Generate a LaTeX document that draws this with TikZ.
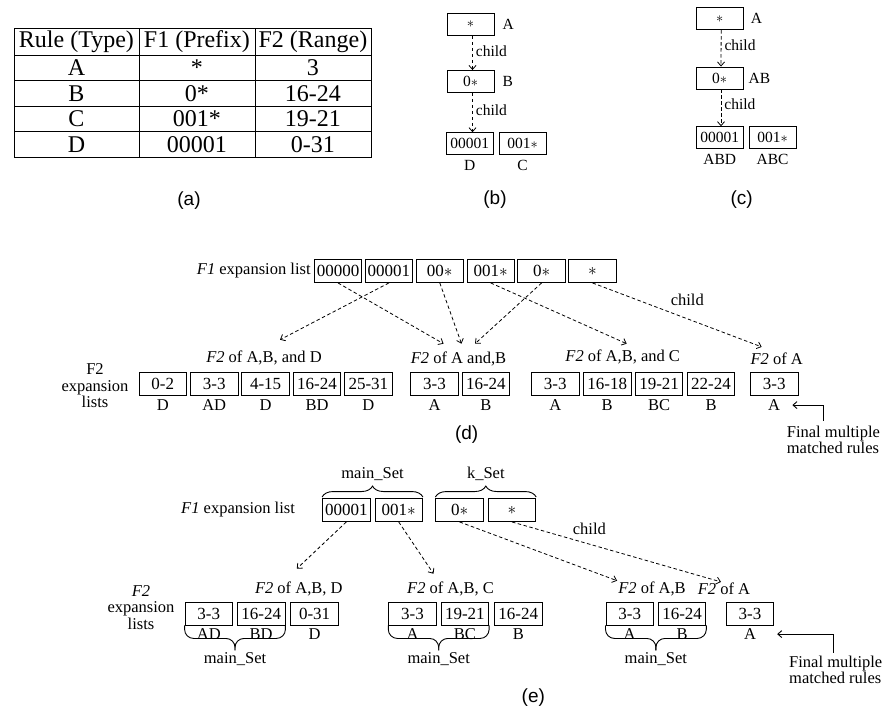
\documentclass[tikz,border=0pt]{standalone}
\usepackage{fontspec}
\setmainfont{Liberation Serif}
\setsansfont{Liberation Sans}
\usepackage{tikz}
\usetikzlibrary{matrix, positioning, calc, decorations.pathreplacing, arrows.meta}

\begin{document}
\begin{tikzpicture}[x=1pt, y=-1pt,
    box/.style={draw, line width=0.9pt, minimum width=47pt, minimum height=22pt, inner sep=1pt, font=\fontsize{15.5}{17}\selectfont},
    cell/.style={draw, line width=0.9pt, minimum width=47.5pt, minimum height=23pt, inner sep=1pt, font=\fontsize{17}{19}\selectfont},
    txt/.style={inner sep=1pt, font=\fontsize{16.5}{16.6}\selectfont},
    tag/.style={inner sep=1pt, font=\fontsize{15.5}{17}\selectfont},
    panel/.style={inner sep=1pt, font=\sffamily\fontsize{19}{21}\selectfont},
    link/.style={line width=0.8pt, dash pattern=on 3.5pt off 2.5pt, -{Straight Barb[length=4pt,width=7pt]}},
    back/.style={line width=0.9pt, -{Straight Barb[length=4pt,width=7pt]}},
    curly/.style={line width=0.9pt, rounded corners=9pt}]
\useasboundingbox (0,0) rectangle (884,711);
%
% (a) rule table
\matrix (tab) [matrix of nodes, anchor=north west,
         row sep=-0.8pt, column sep=-0.8pt,
         nodes={draw, line width=0.8pt, minimum height=25.5pt, inner sep=0pt, anchor=center, font=\fontsize{24}{26}\selectfont},
         column 1/.style={nodes={minimum width=125pt}},
         column 2/.style={nodes={minimum width=116pt}},
         column 3/.style={nodes={minimum width=116pt}},
         row 1/.style={nodes={minimum height=27pt}}] at (10,24)
{
Rule (Type) & F1 (Prefix) & F2 (Range) \\
A & * & 3 \\
B & 0* & 16-24 \\
C & 001* & 19-21 \\
D & 00001 & 0-31 \\
};
\node[panel] (pa) at (189,201) {(a)};
%
% (b)
\node[box] (b1) at (470.5,24.5) {$\ast$};
\node[box] (b2) at (470.5,81.5) {0$\ast$};
\node[box] (b3) at (469.7,143.7) {00001};
\node[box, right=5pt of b3] (b4) {001$\ast$};
\node[tag, right=7pt of b1] (ba) {A};
\node[tag, right=7pt of b2] (bb) {B};
\node[tag, below=4pt of b3] (bd) {D};
\node[tag, below=4pt of b4] (bc) {C};
\draw[link] ([xshift=2pt]b1.south) -- ([xshift=2pt]b2.north) node[tag, pos=0.45, right=2pt] (bl1) {child};
\draw[link] ([xshift=2pt]b2.south) -- ([xshift=2pt]b2.south |- b3.north) node[tag, pos=0.45, right=2pt] (bl2) {child};
\node[panel] (pb) at (495,200) {(b)};
%
% (c)
\node[box] (c1) at (719.7,18.7) {$\ast$};
\node[box] (c2) at (719.5,78) {0$\ast$};
\node[box] (c3) at (719.7,137.7) {00001};
\node[box, right=5pt of c3] (c4) {001$\ast$};
\node[tag, right=6pt of c1] (ca) {A};
\node[tag, right=4pt of c2] (cab) {AB};
\node[tag, below=4pt of c3] (cabd) {ABD};
\node[tag, below=4pt of c4] (cabc) {ABC};
\draw[link] ([xshift=1.5pt]c1.south) -- ([xshift=1.5pt]c2.north) node[tag, pos=0.4, right=2pt] (cl1) {child};
\draw[link] ([xshift=1.5pt]c2.south) -- ([xshift=1.5pt]c2.south |- c3.north) node[tag, pos=0.4, right=2pt] (cl2) {child};
\node[panel] (pc) at (741.7,200) {(c)};
%
% (d) F1 list
\node[cell] (d1) at (338,271) {00000};
\node[cell, right=2.5pt of d1] (d2) {00001};
\node[cell, right=2.5pt of d2] (d3) {00$\ast$};
\node[cell, right=2.5pt of d3] (d4) {001$\ast$};
\node[cell, right=2.5pt of d4] (d5) {0$\ast$};
\node[cell, right=2.5pt of d5] (d6) {$\ast$};
\node[txt, left=2pt of d1] (f1d) {\textit{F1} expansion list};
%
% (d) F2 lists
\node[cell] (g1) at (162.8,383.5) {0-2};
\node[cell, right=3pt of g1] (g2) {3-3};
\node[cell, right=3pt of g2] (g3) {4-15};
\node[cell, right=3pt of g3] (g4) {16-24};
\node[cell, right=3pt of g4] (g5) {25-31};
\node[cell] (g6) at (434.5,383.5) {3-3};
\node[cell, right=3pt of g6] (g7) {16-24};
\node[cell] (g8) at (555.3,383.5) {3-3};
\node[cell, right=3.5pt of g8] (g9) {16-18};
\node[cell, right=3.5pt of g9] (g10) {19-21};
\node[cell, right=3.5pt of g10] (g11) {22-24};
\node[cell] (g12) at (774.2,383.5) {3-3};
\node[txt, below=3pt of g1] (l1) {D};
\node[txt, below=3pt of g2] (l2) {AD};
\node[txt, below=3pt of g3] (l3) {D};
\node[txt, below=3pt of g4] (l4) {BD};
\node[txt, below=3pt of g5] (l5) {D};
\node[txt, below=3pt of g6] (l6) {A};
\node[txt, below=3pt of g7] (l7) {B};
\node[txt, below=3pt of g8] (l8) {A};
\node[txt, below=3pt of g9] (l9) {B};
\node[txt, below=3pt of g10] (l10) {BC};
\node[txt, below=3pt of g11] (l11) {B};
\node[txt, below=3pt of g12] (l12) {A};
\node[txt] (h1) at (264,358) {\textit{F2} of A,B, and D};
\node[txt] (h2) at (458.5,359) {\textit{F2} of A and,B};
\node[txt] (h3) at (622.7,357) {\textit{F2} of A,B, and C};
\node[txt] (h4) at (776.7,359) {\textit{F2} of A};
\node[txt, align=center] (f2d) at (95,386) {F2\\expansion\\lists};
%
\draw[link] (d1.south) -- ([xshift=-15pt, yshift=7pt]h2.north);
\draw[link] (d2.south) -- ([xshift=16pt, yshift=10pt]h1.north);
\draw[link] (d3.south) -- ([xshift=3pt, yshift=7pt]h2.north);
\draw[link] (d5.south) -- ([xshift=16.5pt, yshift=7pt]h2.north);
\draw[link] (d4.south) -- ([xshift=4pt, yshift=5pt]h3.north);
\draw[link] (d6.south) -- ([xshift=-15pt, yshift=5pt]h4.north) node[txt, pos=0.56, above=12pt] (dl) {child};
%
\node[txt, align=left, anchor=west] (fin1) at (785.7,440) {Final multiple\\matched rules};
\draw[back] ([xshift=-10pt, yshift=4pt]fin1.north) |- ([xshift=11pt]l12.east);
\node[panel] (pd) at (466.7,435) {(d)};
%
% (e) F1 list with sets
\node[cell] (e1) at (346.3,510) {00001};
\node[cell, right=4pt of e1] (e2) {001$\ast$};
\node[cell, right=12.5pt of e2] (e3) {0$\ast$};
\node[cell, right=4pt of e3] (e4) {$\ast$};
\node[txt, left=26pt of e1] (f1e) {\textit{F1} expansion list};
\draw[line width=0.9pt, decorate, decoration={brace, amplitude=11pt}] ([yshift=1pt]e1.north west) -- ([yshift=1pt]e2.north east) node[txt, midway, above=15pt] (ms1) {main\_Set};
\draw[line width=0.9pt, decorate, decoration={brace, amplitude=11pt}] ([yshift=1pt]e3.north west) -- ([yshift=1pt]e4.north east) node[txt, midway, above=15pt] (ks) {k\_Set};
%
% (e) F2 lists
\node[cell] (k1) at (208.8,613.5) {3-3};
\node[cell, right=4pt of k1] (k2) {16-24};
\node[cell, right=5pt of k2] (k3) {0-31};
\node[cell] (k4) at (412.5,613.5) {3-3};
\node[cell, right=4pt of k4] (k5) {19-21};
\node[cell, right=5pt of k5] (k6) {16-24};
\node[cell] (k7) at (629.7,613.5) {3-3};
\node[cell, right=4pt of k7] (k8) {16-24};
\node[cell] (k9) at (750,613.5) {3-3};
\node[txt, below=2pt of k1] (m1) {AD};
\node[txt, below=2pt of k2] (m2) {BD};
\node[txt, below=2pt of k3] (m3) {D};
\node[txt, below=2pt of k4] (m4) {A};
\node[txt, below=2pt of k5] (m5) {BC};
\node[txt, below=2pt of k6] (m6) {B};
\node[txt, below=2pt of k7] (m7) {A};
\node[txt, below=2pt of k8] (m8) {B};
\node[txt, below=2pt of k9] (m9) {A};
\node[txt] (h5) at (298.8,589) {\textit{F2} of A,B, D};
\node[txt] (h6) at (450.5,589) {\textit{F2} of A,B, C};
\node[txt] (h7) at (652,589) {\textit{F2} of A,B};
\node[txt] (h8) at (724,589) {\textit{F2} of A};
\node[txt, align=center] (f2e) at (141,607.5) {\textit{F2}\\expansion\\lists};
%
\draw[curly] (k1.south west) |- ($(k1.south west)!0.5!(k2.south east)+(0,13)$) -- ++(0,12) coordinate (t1);
\draw[curly] (k2.south east) |- ($(k1.south west)!0.5!(k2.south east)+(0,13)$) -- ++(0,12);
\node[txt, below=1pt of t1] (ms2) {main\_Set};
\draw[curly] (k4.south west) |- ($(k4.south west)!0.5!(k5.south east)+(0,13)$) -- ++(0,12) coordinate (t2);
\draw[curly] (k5.south east) |- ($(k4.south west)!0.5!(k5.south east)+(0,13)$) -- ++(0,12);
\node[txt, below=1pt of t2] (ms3) {main\_Set};
\draw[curly] (k7.south west) |- ($(k7.south west)!0.5!(k8.south east)+(0,13)$) -- ++(0,12) coordinate (t3);
\draw[curly] (k8.south east) |- ($(k7.south west)!0.5!(k8.south east)+(0,13)$) -- ++(0,12);
\node[txt, below=1pt of t3] (ms4) {main\_Set};
%
\draw[link] (e1.south) -- ([xshift=-2pt, yshift=12pt]h5.north);
\draw[link] (e2.south) -- ([xshift=-17pt, yshift=7pt]h6.north);
\draw[link] (e3.south) -- (h7.north west);
\draw[link] (e4.south) -- ([xshift=-3pt]h8.north) node[txt, pos=0.37, above=8pt] (el) {child};
%
\node[txt, align=left, anchor=west] (fin2) at (788,670) {Final multiple\\matched rules};
\draw[back] ([xshift=-2pt, yshift=2pt]fin2.north) |- ([xshift=20pt]m9.east);
\node[panel] (pe) at (533.3,698) {(e)};
\end{tikzpicture}
\end{document}
